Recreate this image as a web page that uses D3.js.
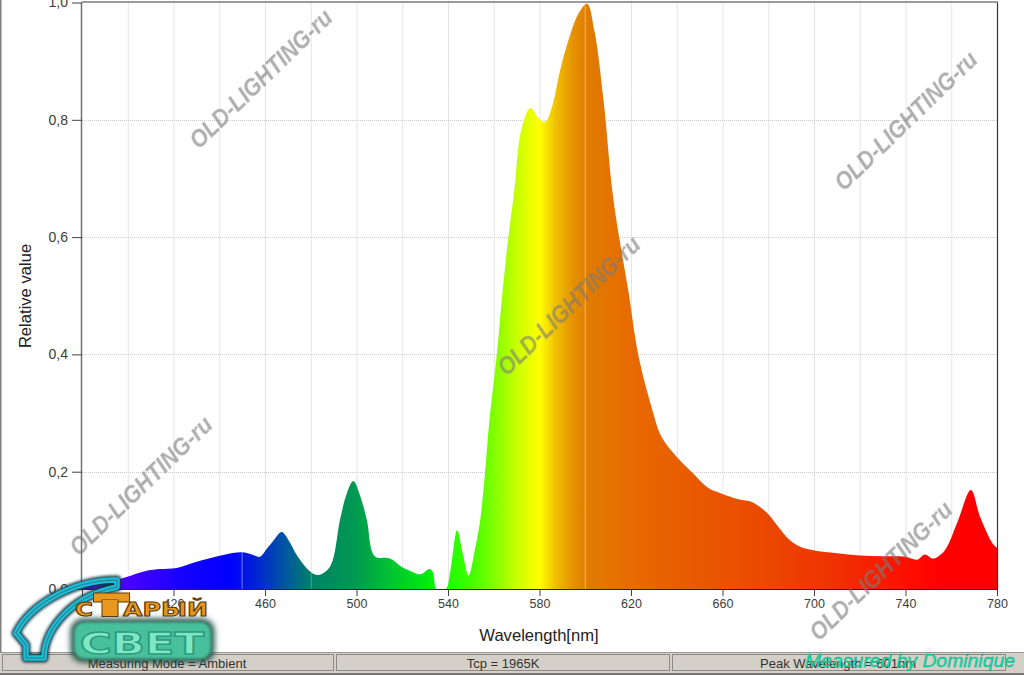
<!DOCTYPE html>
<html><head><meta charset="utf-8">
<script src="https://cdn.jsdelivr.net/npm/d3@7"></script>
<style>html,body{margin:0;padding:0;background:#fff;overflow:hidden}svg{display:block}</style>
</head><body><svg id="c" width="1024" height="675"></svg>
<script>
const wavelengths=[380,388,397.4,408.3,414,421.4,431.6,441.7,449.8,454.2,457.8,460.7,464,467.3,470.5,473.9,479.7,483.3,488.4,492.8,495.5,498.6,501.5,504.5,508,514.6,520,524,528,532,533.5,535,539,541,544,546.5,549,552,554,556.2,558,561.3,563.9,566.4,569,572,576,579.4,582.4,585.4,589,592.6,597,600.8,604,608,611.8,614.8,618.8,623.2,629,633.4,640,647.2,653.8,660,667,673,679.4,684,689.5,694,699.7,710,720,730,740,745,748.5,752,757,762.5,768.6,772.6,778,780];
const relValues=[0.004,0.009,0.018,0.031,0.034,0.036,0.048,0.058,0.0625,0.059,0.055,0.068,0.084,0.097,0.082,0.058,0.03,0.024,0.038,0.118,0.16,0.184,0.16,0.118,0.056,0.052,0.037,0.03,0.025,0.034,0.028,0.0,0.0,0.03,0.1,0.06,0.023,0.072,0.115,0.198,0.283,0.399,0.509,0.6,0.68,0.782,0.82,0.804,0.796,0.821,0.884,0.935,0.981,0.998,0.952,0.833,0.68,0.6,0.509,0.399,0.31,0.259,0.225,0.197,0.172,0.162,0.153,0.148,0.13,0.108,0.083,0.072,0.066,0.061,0.057,0.056,0.055,0.05,0.059,0.052,0.065,0.112,0.169,0.123,0.078,0.07];
const specStops=[[380,"#5a00ff"],[400,"#4a00ff"],[425,"#1400ff"],[445,"#0000ff"],[455,"#0020d8"],[470,"#005a9c"],[480,"#008068"],[500,"#009a50"],[515,"#00c430"],[530,"#00ea10"],[540,"#20ff00"],[550,"#40ff00"],[560,"#80ff00"],[570,"#c8ff00"],[580,"#ffff00"],[587,"#f0c000"],[595,"#e49000"],[601,"#e07c00"],[620,"#e86a00"],[640,"#e85e00"],[680,"#ea4800"],[710,"#f03000"],[740,"#fc1000"],[755,"#ff0000"],[780,"#ff0000"]];
const xTicks=[380,420,460,500,540,580,620,660,700,740,780];
const xHidden=[380];
const xGrid=[400,420,440,460,480,500,520,540,560,580,600,620,640,660,680,700,720,740,760];
const yTicks=[0,0.2,0.4,0.6,0.8,1];
const markers=[450,600];
const xTitle="Wavelength[nm]",yTitle="Relative value";
const statusTexts=["Measuring Mode = Ambient","Tcp = 1965K","Peak Wavelength = 601nm"];
const watermarks=[[195,148],[840,190],[503,375],[75,555],[815,640]];

const svg=d3.select("#c");
const m={l:82,r:997,t:2.5,b:589};
const x=d3.scaleLinear().domain([380,780]).range([m.l,m.r]);
const y=d3.scaleLinear().domain([0,1]).range([m.b,m.t]);
const defs=svg.append("defs");
const g=defs.append("linearGradient").attr("id","sp").attr("gradientUnits","userSpaceOnUse").attr("x1",x(380)).attr("x2",x(780)).attr("y1",0).attr("y2",0);
specStops.forEach(s=>g.append("stop").attr("offset",(s[0]-380)/400).attr("stop-color",s[1]));
const blur=defs.append("filter").attr("id","soft").attr("x","-20%").attr("y","-20%").attr("width","140%").attr("height","140%");
blur.append("feGaussianBlur").attr("stdDeviation",1.6);
const blur2=defs.append("filter").attr("id","soft2").attr("x","-20%").attr("y","-30%").attr("width","140%").attr("height","160%");
blur2.append("feGaussianBlur").attr("stdDeviation",3);
const soft2=defs.append("filter").attr("id","wm");soft2.append("feGaussianBlur").attr("stdDeviation",0.4);
const soft3=defs.append("filter").attr("id","s3");soft3.append("feGaussianBlur").attr("stdDeviation",0.5);
defs.append("clipPath").attr("id","plot").append("rect").attr("x",m.l).attr("y",m.t-1).attr("width",m.r-m.l).attr("height",m.b-m.t+1);

svg.append("rect").attr("width",1024).attr("height",675).attr("fill","#fff");
svg.append("rect").attr("x",0).attr("y",0).attr("width",1.5).attr("height",675).attr("fill","#808080");
// grid
const grid=svg.append("g").attr("stroke","#cbcbcb").attr("stroke-width",1).attr("stroke-dasharray","1 1");
grid.selectAll("line.v").data(xGrid).join("line").attr("x1",d=>x(d)+.5).attr("x2",d=>x(d)+.5).attr("y1",m.t).attr("y2",m.b);
grid.selectAll("line.h").data(yTicks.slice(1,5)).join("line").attr("x1",m.l).attr("x2",m.r).attr("y1",d=>Math.round(y(d))+.5).attr("y2",d=>Math.round(y(d))+.5);
// area
const area=d3.area().x((d,i)=>x(wavelengths[i])).y0(y(0)).y1(d=>y(d)).curve(d3.curveCatmullRom.alpha(0.5));
svg.append("g").attr("clip-path","url(#plot)").append("path").datum(relValues).attr("d",area).attr("fill","url(#sp)");
const clip=defs.append("clipPath").attr("id","ac");clip.append("path").datum(relValues).attr("d",area);
svg.append("g").attr("clip-path","url(#ac)").selectAll("line").data(markers).join("line")
 .attr("x1",d=>x(d)).attr("x2",d=>x(d)).attr("y1",m.t).attr("y2",m.b).attr("stroke","#fff").attr("stroke-opacity",.45);
svg.append("g").attr("clip-path","url(#ac)").selectAll("line").data([480]).join("line")
 .attr("x1",d=>x(d)+.5).attr("x2",d=>x(d)+.5).attr("y1",m.t).attr("y2",m.b).attr("stroke","#fff").attr("stroke-opacity",.25);
// frame
svg.append("line").attr("x1",m.l-.5).attr("x2",m.l-.5).attr("y1",m.t).attr("y2",m.b).attr("stroke","#707070").attr("stroke-width",1.5);
svg.append("line").attr("x1",m.r+.5).attr("x2",m.r+.5).attr("y1",m.t).attr("y2",m.b).attr("stroke","#383838").attr("stroke-width",1.2);
svg.append("line").attr("x1",m.l).attr("x2",m.r+1).attr("y1",m.t-.5).attr("y2",m.t-.5).attr("stroke","#383838").attr("stroke-width",1.2);
svg.append("line").attr("x1",m.l).attr("x2",m.r+1).attr("y1",m.b+.5).attr("y2",m.b+.5).attr("stroke","#282828");
// axes
const xa=svg.append("g").attr("transform",`translate(0,${m.b})`).call(d3.axisBottom(x).tickValues(xTicks).tickSize(7).tickPadding(3).tickFormat(d=>xHidden.includes(d)?"":d));
const ya=svg.append("g").attr("transform",`translate(${m.l},0)`).call(d3.axisLeft(y).tickValues(yTicks).tickSize(10).tickPadding(4).tickFormat(d=>d3.format(".1f")(d).replace(".",",")));
[xa,ya].forEach(a=>{a.select(".domain").remove();a.selectAll("line").attr("stroke","#404040");a.selectAll("text").attr("font-family","Liberation Sans, Arial").attr("fill","#3c3c3c")});
xa.selectAll("text").attr("font-size",12.5);
ya.selectAll("text").attr("font-size",14);
svg.append("text").text(xTitle).attr("x",539).attr("y",641).attr("text-anchor","middle").attr("font-family","Liberation Sans, Arial").attr("font-size",16.6).attr("fill","#222");
svg.append("text").text(yTitle).attr("transform","translate(31,296) rotate(-90)").attr("text-anchor","middle").attr("font-family","Liberation Sans, Arial").attr("font-size",16.6).attr("fill","#222");
// status bar
svg.append("rect").attr("x",0).attr("y",652).attr("width",1024).attr("height",23).attr("fill","#d4d0c8");
svg.append("line").attr("x1",0).attr("x2",1024).attr("y1",652.5).attr("y2",652.5).attr("stroke","#9a9a94");
const panels=[[2,334],[336,670],[672,1006]];
panels.forEach((p,i)=>{
 svg.append("rect").attr("x",p[0]+.5).attr("y",654.5).attr("width",p[1]-p[0]-1).attr("height",16).attr("fill","#d4d0c8").attr("stroke","#8c8a84");
 svg.append("text").text(statusTexts[i]).attr("x",[167,503,838][i]).attr("y",668).attr("text-anchor","middle").attr("font-family","Liberation Sans, Arial").attr("font-size",13).attr("fill","#333");
});
svg.append("rect").attr("x",0).attr("y",673).attr("width",1024).attr("height",2).attr("fill","#777");
// watermarks
svg.selectAll("text.wm").data(watermarks).join("text").attr("class","wm").text("OLD-LIGHTING-ru")
 .attr("transform",d=>`translate(${d[0]+4},${d[1]+2}) rotate(-44)`)
 .attr("font-family","Liberation Sans Narrow, Liberation Sans").attr("font-weight","bold").attr("font-style","italic").attr("font-size",23)
 .attr("textLength",188).attr("lengthAdjust","spacingAndGlyphs").attr("fill","#7a7a7a").attr("fill-opacity",.62).attr("filter","url(#wm)");
// logo: arc
const arc="M 117 580 C 72 580 30 605 16 633 L 26 645 L 26 658 L 44 658 C 44 632 68 597 117 587 Z";
svg.append("path").attr("d",arc).attr("fill","none").attr("stroke","#103848").attr("stroke-width",9).attr("stroke-linejoin","round").attr("filter","url(#soft)");
svg.append("path").attr("d",arc).attr("fill","none").attr("stroke","#18c0d8").attr("stroke-width",5.5).attr("stroke-linejoin","round");
svg.append("path").attr("d",arc).attr("fill","none").attr("stroke","#2c8ca0").attr("stroke-width",1.5).attr("stroke-linejoin","round").attr("filter","url(#s3)");
// logo: lower block
svg.append("rect").attr("x",71).attr("y",619).attr("width",143).attr("height",43).attr("rx",12).attr("fill","#0c3a30").attr("filter","url(#soft2)");
svg.append("rect").attr("x",74).attr("y",622).attr("width",137).attr("height",37).attr("rx",10).attr("fill","#48c09c").attr("filter","url(#soft)");
svg.append("text").text("СВЕТ").attr("x",142).attr("y",654).attr("text-anchor","middle").attr("font-family","DejaVu Sans").attr("font-weight","bold").attr("font-size",31).attr("textLength",124).attr("lengthAdjust","spacingAndGlyphs").attr("fill","#7ee8c4").attr("stroke","#2c9c80").attr("stroke-width",1.4);
// logo: upper word
const brown="#5a3808",orange="#e8981f";
svg.append("rect").attr("x",93.5).attr("y",593).attr("width",36).attr("height",9).attr("fill",orange).attr("stroke",brown).attr("stroke-width",1);
svg.append("rect").attr("x",102).attr("y",600).attr("width",16).attr("height",16.5).attr("fill",orange).attr("stroke",brown).attr("stroke-width",1);
svg.append("rect").attr("x",102.6).attr("y",600).attr("width",14.8).attr("height",3).attr("fill",orange);
svg.append("text").text("С").attr("x",75).attr("y",616).attr("font-family","DejaVu Sans").attr("font-weight","bold").attr("font-size",19).attr("textLength",18).attr("lengthAdjust","spacingAndGlyphs").attr("fill",orange).attr("stroke",brown).attr("stroke-width",1);
svg.append("text").text("АРЫЙ").attr("x",123).attr("y",616).attr("font-family","DejaVu Sans").attr("font-weight","bold").attr("font-size",19).attr("textLength",85).attr("lengthAdjust","spacingAndGlyphs").attr("fill",orange).attr("stroke",brown).attr("stroke-width",1);
// signature
svg.append("text").text("Measured by Dominique").attr("x",805).attr("y",667).attr("font-family","Liberation Sans").attr("font-style","italic").attr("font-size",17.5).attr("textLength",210).attr("lengthAdjust","spacingAndGlyphs").attr("fill","#12dca4").attr("stroke","#0ca888").attr("stroke-width",.35);
</script></body></html>
